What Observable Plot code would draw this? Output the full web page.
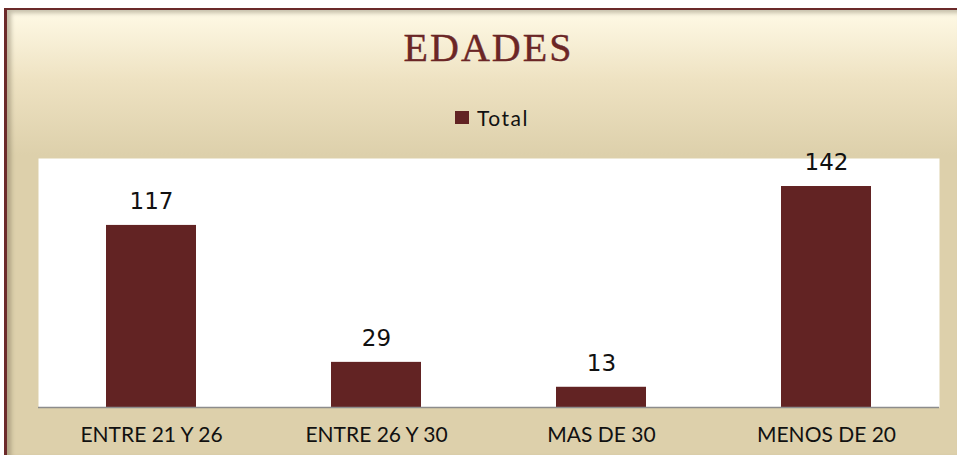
<!DOCTYPE html>
<html>
<head>
<meta charset="utf-8">
<script src="https://cdn.jsdelivr.net/npm/d3@7"></script>
<script src="https://cdn.jsdelivr.net/npm/@observablehq/plot@0.6"></script>
<style>
  html, body { margin: 0; padding: 0; background: #ffffff; width: 957px; height: 455px; overflow: hidden; }
  #bg {
    position: absolute; left: 4px; top: 8px; width: 953px; height: 447px;
    border-left: 3px solid #6b2a2a; border-top: 2px solid #6b2a2a;
    background: linear-gradient(to bottom, #fffae6 0px, #eee2c2 70px, #ddd0ab 145px, #ddd0ab 100%);
    box-shadow: inset 4px 3px 4px rgba(90,80,60,0.35);
    box-sizing: border-box;
  }
  #title {
    position: absolute; left: 0; width: 977px; top: 24px; text-align: center;
    font-family: "Liberation Serif", "Times New Roman", serif; font-size: 40px; line-height: 48px;
    color: #6b2626; letter-spacing: 2px; -webkit-text-stroke: 0.4px #6b2626;
  }
  #legend {
    position: absolute; left: 455px; top: 104px; height: 26px; display: flex; align-items: center;
    font-family: Lato, "Liberation Sans", sans-serif; font-size: 21px; color: #111; letter-spacing: 1.5px;
  }
  #legend .sw { width: 14px; height: 13px; background: #622323; margin-right: 8px; }
  #plot { position: absolute; left: 0; top: 140px; }
</style>
</head>
<body>
<div id="bg"></div>
<div id="title">EDADES</div>
<div id="legend"><span class="sw"></span><span>Total</span></div>
<div id="plot"></div>
<script>
const categories = ["ENTRE 21 Y 26", "ENTRE 26 Y 30", "MAS DE 30", "MENOS DE 20"];
const values = [117, 29, 13, 142];
const seriesName = "Total";

const data = categories.map((c, i) => ({cat: c, value: values[i]}));

const chart = Plot.plot({
  width: 957,
  height: 315,
  marginLeft: 38,
  marginRight: 18,
  marginTop: 18,
  marginBottom: 48,
  style: {background: "transparent", overflow: "visible"},
  x: {domain: categories, paddingInner: 0.6, paddingOuter: 0.3, axis: null},
  y: {domain: [0, 160], axis: null},
  marks: [
    Plot.frame({fill: "#ffffff", stroke: "none"}),
    Plot.barY(data, {x: "cat", y: "value", fill: "#622323"}),
    Plot.ruleY([0], {stroke: "#8c8c8c", strokeWidth: 1.5}),
    Plot.text(data, {x: "cat", y: "value", text: d => String(d.value), dy: -24,
      fontSize: 23, fontFamily: "DejaVu Sans, Verdana, sans-serif", fill: "#111", letterSpacing: "1.5px"}),
    Plot.text(data, {x: "cat", y: 0, text: "cat", dy: 28,
      fontSize: 21, fontFamily: "Lato, Liberation Sans, sans-serif", fill: "#111", letterSpacing: "1.5px"})
  ]
});
document.getElementById("plot").appendChild(chart);
</script>
</body>
</html>
